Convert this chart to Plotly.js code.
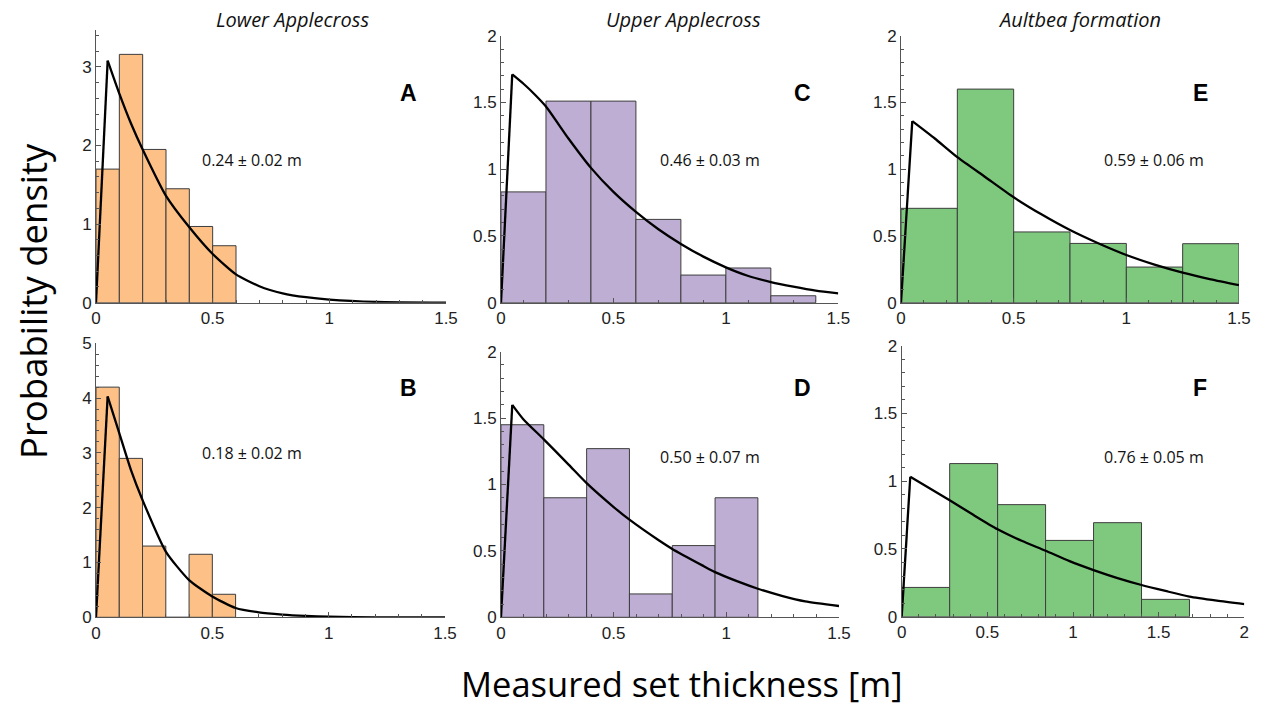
<!DOCTYPE html>
<html>
<head>
<meta charset="utf-8">
<script src="https://cdn.plot.ly/plotly-3.0.1.min.js"></script>
<style>html,body{margin:0;padding:0;background:#fff;}#chart{width:1262px;height:708px;}</style>
</head>
<body>
<div id="chart"></div>
<script>
// ---------- data ----------
// Panel A: Lower Applecross (top)
const binEdgesA = [0, 0.1, 0.2, 0.3, 0.4, 0.5, 0.6];
const densityA  = [1.70, 3.16, 1.95, 1.45, 0.97, 0.725];
const fitXA = [0, 0.05, 0.1, 0.15, 0.2, 0.3, 0.4, 0.5, 0.6, 0.7, 0.8, 0.9, 1.0, 1.2, 1.5];
const fitYA = [0, 3.08, 2.66, 2.28, 1.95, 1.36, 0.96, 0.62, 0.36, 0.21, 0.12, 0.07, 0.04, 0.01, 0.0];

// Panel B: Lower Applecross (bottom)
const binEdgesB = [0, 0.1, 0.2, 0.3, 0.4, 0.5, 0.6];
const densityB  = [4.20, 2.90, 1.30, 0, 1.15, 0.42];
const fitXB = [0, 0.05, 0.1, 0.15, 0.2, 0.3, 0.4, 0.5, 0.6, 0.7, 0.8, 0.9, 1.0, 1.2, 1.5];
const fitYB = [0, 4.03, 3.36, 2.69, 2.14, 1.20, 0.68, 0.38, 0.17, 0.09, 0.05, 0.025, 0.01, 0.0, 0.0];

// Panel C: Upper Applecross (top)
const binEdgesC = [0, 0.2, 0.4, 0.6, 0.8, 1.0, 1.2, 1.4];
const densityC  = [0.83, 1.51, 1.51, 0.624, 0.207, 0.26, 0.052];
const fitXC = [0, 0.05, 0.1, 0.15, 0.2, 0.3, 0.4, 0.5, 0.6, 0.7, 0.8, 0.9, 1.0, 1.1, 1.2, 1.3, 1.4, 1.5];
const fitYC = [0, 1.71, 1.64, 1.56, 1.47, 1.23, 1.01, 0.83, 0.68, 0.55, 0.44, 0.345, 0.265, 0.20, 0.155, 0.12, 0.09, 0.07];

// Panel D: Upper Applecross (bottom)
const binEdgesD = [0, 0.19, 0.38, 0.57, 0.76, 0.95, 1.14];
const densityD  = [1.45, 0.90, 1.27, 0.176, 0.54, 0.90];
const fitXD = [0, 0.05, 0.1, 0.19, 0.3, 0.38, 0.5, 0.57, 0.7, 0.76, 0.9, 0.95, 1.05, 1.14, 1.25, 1.35, 1.5];
const fitYD = [0, 1.60, 1.49, 1.34, 1.15, 1.01, 0.83, 0.735, 0.58, 0.515, 0.385, 0.34, 0.27, 0.215, 0.16, 0.12, 0.085];

// Panel E: Aultbea formation (top)
const binEdgesE = [0, 0.25, 0.5, 0.75, 1.0, 1.25, 1.5];
const densityE  = [0.707, 1.60, 0.53, 0.444, 0.267, 0.442];
const fitXE = [0, 0.05, 0.15, 0.25, 0.375, 0.5, 0.625, 0.75, 0.875, 1.0, 1.125, 1.25, 1.375, 1.5];
const fitYE = [0, 1.36, 1.23, 1.09, 0.94, 0.79, 0.66, 0.544, 0.445, 0.357, 0.285, 0.225, 0.175, 0.132];

// Panel F: Aultbea formation (bottom)
const binEdgesF = [0, 0.28, 0.56, 0.84, 1.12, 1.40, 1.68];
const densityF  = [0.216, 1.13, 0.827, 0.563, 0.694, 0.128];
const fitXF = [0, 0.05, 0.28, 0.42, 0.56, 0.7, 0.84, 0.98, 1.12, 1.26, 1.4, 1.54, 1.68, 1.84, 2.0];
const fitYF = [0, 1.033, 0.86, 0.75, 0.645, 0.56, 0.487, 0.41, 0.344, 0.285, 0.234, 0.19, 0.148, 0.118, 0.093];

// text
const columnTitles = ["Lower Applecross", "Upper Applecross", "Aultbea formation"];
const panelLetters = ["A", "B", "C", "D", "E", "F"];
const meanLabels   = ["0.24 ± 0.02 m", "0.18 ± 0.02 m", "0.46 ± 0.03 m", "0.50 ± 0.07 m", "0.59 ± 0.06 m", "0.76 ± 0.05 m"];
const xTitle = "Measured set thickness [m]";
const yTitle = "Probability density";

// ticks
const xTicks15 = [0, 0.5, 1, 1.5];
const xTicks20 = [0, 0.5, 1, 1.5, 2];
const yTicksA  = [0, 1, 2, 3];
const yTicksB  = [0, 1, 2, 3, 4, 5];
const yTicks2  = [0, 0.5, 1, 1.5, 2];

// colours (ColorBrewer Accent)
const orange = "#fdc086", purple = "#beaed4", green = "#7fc97f";

// ---------- build ----------
const W = 1262, H = 708;
const px = v => v / W, py = v => 1 - v / H;

const panels = [
  {edges: binEdgesA, dens: densityA, fx: fitXA, fy: fitYA, color: orange,
   xd: [96, 446], yd: [302.7, 30], xr: [0, 1.5], yr: [0, 3.47], xt: xTicks15, yt: yTicksA, ym: 0.2},
  {edges: binEdgesB, dens: densityB, fx: fitXB, fy: fitYB, color: orange,
   xd: [96, 445], yd: [617.3, 343.3], xr: [0, 1.5], yr: [0, 5], xt: xTicks15, yt: yTicksB, ym: 0.2},
  {edges: binEdgesC, dens: densityC, fx: fitXC, fy: fitYC, color: purple,
   xd: [501, 838.3], yd: [302.7, 35.7], xr: [0, 1.5], yr: [0, 2], xt: xTicks15, yt: yTicks2, ym: 0.1},
  {edges: binEdgesD, dens: densityD, fx: fitXD, fy: fitYD, color: purple,
   xd: [501, 839], yd: [617.3, 351.7], xr: [0, 1.5], yr: [0, 2], xt: xTicks15, yt: yTicks2, ym: 0.1},
  {edges: binEdgesE, dens: densityE, fx: fitXE, fy: fitYE, color: green,
   xd: [901, 1239], yd: [302.7, 35.7], xr: [0, 1.5], yr: [0, 2], xt: xTicks15, yt: yTicks2, ym: 0.1},
  {edges: binEdgesF, dens: densityF, fx: fitXF, fy: fitYF, color: green,
   xd: [901.7, 1244.3], yd: [616.7, 345.7], xr: [0, 2], yr: [0, 2], xt: xTicks20, yt: yTicks2, ym: 0.1}
];

const tickFont = {family: "Liberation Sans, Arial, sans-serif", size: 17, color: "#222"};
const axisCol = "#555";

const traces = [];
const layout = {
  width: W, height: H, autosize: false,
  margin: {l: 0, r: 0, t: 0, b: 0},
  paper_bgcolor: "#fff", plot_bgcolor: "rgba(0,0,0,0)",
  showlegend: false,
  annotations: [],
  font: {family: "Open Sans, sans-serif", color: "#111"}
};

panels.forEach((p, i) => {
  const n = i + 1;
  const xa = n === 1 ? "x" : "x" + n;
  const ya = n === 1 ? "y" : "y" + n;
  const centers = p.dens.map((_, k) => (p.edges[k] + p.edges[k + 1]) / 2);
  const widths = p.dens.map((_, k) => p.edges[k + 1] - p.edges[k]);
  traces.push({
    type: "bar", x: centers, y: p.dens, width: widths, xaxis: xa, yaxis: ya,
    marker: {color: p.color, line: {color: "#3d3d3d", width: 1}},
    hoverinfo: "skip"
  });
  // steep rise to the peak (straight)
  traces.push({
    type: "scatter", mode: "lines", x: p.fx.slice(0, 2), y: p.fy.slice(0, 2), xaxis: xa, yaxis: ya,
    line: {color: "#000", width: 2.3}, cliponaxis: false, hoverinfo: "skip"
  });
  // smooth decay after the peak
  traces.push({
    type: "scatter", mode: "lines", x: p.fx.slice(1), y: p.fy.slice(1), xaxis: xa, yaxis: ya,
    line: {color: "#000", width: 2.3, shape: "spline", smoothing: 0.6}, cliponaxis: false, hoverinfo: "skip"
  });
  const common = {
    showgrid: false, zeroline: false, showline: true, linecolor: axisCol, linewidth: 1,
    ticks: "inside", ticklen: 5, tickwidth: 1, tickcolor: axisCol, tickfont: tickFont,
    fixedrange: true
  };
  layout["xaxis" + (n === 1 ? "" : n)] = Object.assign({}, common, {
    domain: [px(p.xd[0]), px(p.xd[1])], range: p.xr, anchor: ya,
    tickmode: "array", tickvals: p.xt,
    minor: {dtick: 0.1, tick0: 0, ticks: "inside", ticklen: 3, tickcolor: axisCol, showgrid: false}
  });
  layout["yaxis" + (n === 1 ? "" : n)] = Object.assign({}, common, {
    domain: [py(p.yd[0]), py(p.yd[1])], range: p.yr, anchor: xa,
    tickmode: "array", tickvals: p.yt,
    minor: {dtick: p.ym, tick0: 0, ticks: "inside", ticklen: 3, tickcolor: axisCol, showgrid: false}
  });
});

function ann(text, x, y, font, extra) {
  layout.annotations.push(Object.assign({
    text: text, xref: "paper", yref: "paper", x: px(x), y: py(y),
    xanchor: "center", yanchor: "middle", showarrow: false, font: font
  }, extra || {}));
}

const titleFont = {family: "Open Sans, sans-serif", size: 20, style: "italic", color: "#111"};
ann(columnTitles[0], 292, 19, titleFont);
ann(columnTitles[1], 683, 19, titleFont);
ann(columnTitles[2], 1079, 19, titleFont);

const letterFont = {family: "Liberation Sans, Arial, sans-serif", size: 23, weight: "bold", color: "#000"};
const letterPos = [[408, 93], [408, 388], [802, 93], [802, 388], [1200, 93], [1200, 388]];
panelLetters.forEach((t, k) => ann(t, letterPos[k][0], letterPos[k][1], letterFont));

const meanFont = {family: "Open Sans, sans-serif", size: 16, color: "#111"};
const meanPos = [[252, 160], [252, 453], [710, 160], [710, 457], [1154, 160], [1154, 457]];
meanLabels.forEach((t, k) => ann(t, meanPos[k][0], meanPos[k][1], meanFont));

ann(xTitle, 682, 683, {family: "Open Sans, sans-serif", size: 34.5, color: "#000"});
ann(yTitle, 33, 301, {family: "Open Sans, sans-serif", size: 36.5, color: "#000"}, {textangle: -90});

Plotly.newPlot("chart", traces, layout, {staticPlot: true, displayModeBar: false});
</script>
</body>
</html>
